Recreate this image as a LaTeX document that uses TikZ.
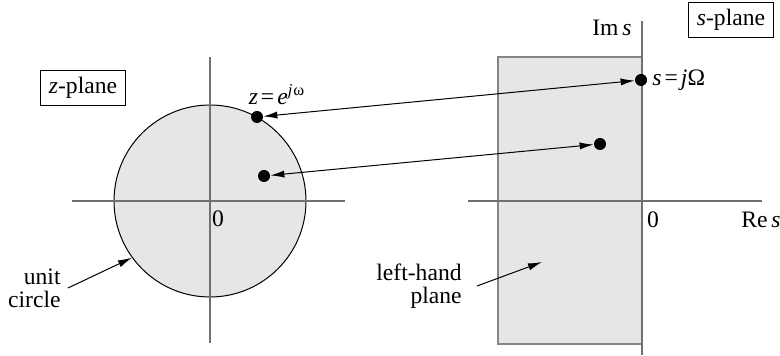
\documentclass[tikz,border=0pt]{standalone}
\usepackage{fontspec}
\setmainfont{Liberation Serif}
\usetikzlibrary{positioning,arrows.meta}
\definecolor{region}{HTML}{E5E6E8}
\definecolor{axis}{HTML}{707070}
\definecolor{edge}{HTML}{858585}

\begin{document}
\begin{tikzpicture}[x=.5pt,y=-.5pt,
  font=\fontsize{11.8}{13}\selectfont,
  ax/.style={draw=axis,line width=.8pt},
  pt/.style={circle,fill=black,inner sep=0pt,minimum size=6pt},
  planebox/.style={draw,line width=.5pt,inner xsep=4pt,minimum height=16.5pt},
  link/.style={{Latex[length=7pt,width=3.6pt]}-{Latex[length=7pt,width=3.6pt]},line width=.5pt},
  tag/.style={-{Latex[length=7pt,width=3.6pt]},line width=.5pt},
  note/.style={align=right,inner xsep=3.5pt,inner ysep=2pt,font=\fontsize{11.8}{11.5}\selectfont}]
  \useasboundingbox (0,0) rectangle (780,356);
  % z-plane
  \node[draw=black,fill=region,circle,line width=.5pt,minimum size=96pt,inner sep=0pt] (uc) at (210,201) {};
  \draw[ax] (72,201) -- (345,201);
  \draw[ax] (210,57) -- (210,343);
  \node[planebox] (zp) at (83,88) {\textit{z}-plane};
  \node (z0) at (218,219) {0};
  \node[pt] (zdot) at (257,117) {};
  \node[pt] (zin) at (264,176) {};
  \node (zlab) at (277,95) {\textit{z}\kern1.5pt=\kern1.5pt\textit{e}\textsuperscript{\textit{j}\kern.5ptω}};
  \node[note,anchor=east] (ul) at (68,288) {unit\\circle};
  \draw[tag] (ul.east) -- (uc.216);
  % s-plane
  \filldraw[fill=region,draw=edge,line width=.8pt] (498,57) rectangle (642,344);
  \draw[ax] (468,201) -- (762,201);
  \draw[ax] (642,21) -- (642,355);
  \node[planebox] (sp) at (731,20) {\textit{s}-plane};
  \node (ims) at (612,28) {Im\,\textit{s}};
  \node (res) at (761,220) {Re\,\textit{s}};
  \node (s0) at (653,220) {0};
  \node[pt] (sdot) at (641,80) {};
  \node[pt] (sin) at (600,144) {};
  \node[right=-1pt of sdot] (slab) {\textit{s}\kern1.5pt=\kern1.5pt\textit{j}Ω};
  \node[note,anchor=east,inner xsep=7.5pt] (lh) at (477,286) {left-hand\\plane};
  \coordinate (lhtip) at (542,262);
  \draw[tag] (lh.east) -- (lhtip);
  % mapping
  \draw[link] (zdot) -- (sdot);
  \draw[link] (zin) -- (sin);
\end{tikzpicture}
\end{document}
